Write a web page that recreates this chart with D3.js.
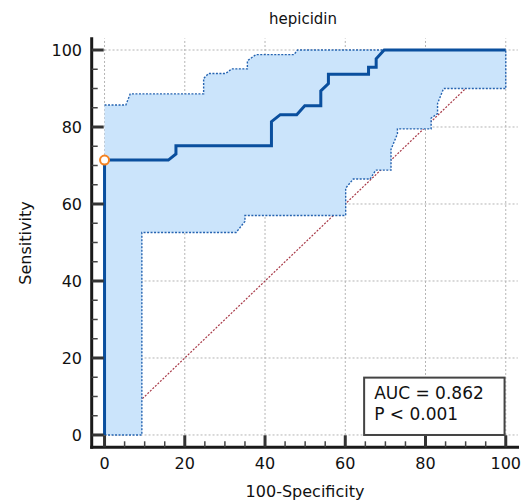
<!DOCTYPE html>
<html><head><meta charset="utf-8">
<script src="https://cdn.jsdelivr.net/npm/d3@7"></script>
<style>
html,body{margin:0;padding:0;background:#fff;}
svg{display:block;font-family:"DejaVu Sans",sans-serif;}
</style></head>
<body><svg id="c" width="527" height="501"></svg>
<script>
// ROC curve: [100-Specificity, Sensitivity]
const rocPoints = [[0,0],[0,71.4],[15.9,71.4],[17.8,73.0],[17.8,75.1],[41.6,75.1],[41.6,81.4],[43.8,83.2],[47.9,83.2],[49.9,85.5],[53.9,85.5],[53.9,89.4],[55.8,91.3],[55.8,93.7],[65.8,93.7],[65.8,95.5],[67.7,95.5],[67.7,97.7],[69.7,100],[100,100]];
// Upper confidence bound
const upperCI = [[0,85.7],[5.3,85.7],[6.4,88.6],[24.7,88.6],[24.7,92.6],[25.9,93.9],[30.2,93.9],[31.7,95.1],[35.6,95.1],[35.6,97.2],[37.7,98.8],[47.2,98.8],[48.1,100],[100,100]];
// Lower confidence bound
const lowerCI = [[0,0],[9.3,0],[9.3,52.6],[32.8,52.6],[35.0,55.5],[35.0,57.0],[60.1,57.0],[60.1,64.1],[62.0,66.5],[66.2,66.5],[67.6,68.8],[71.4,68.8],[71.4,74.2],[73.0,78.2],[73.0,79.5],[81.4,79.5],[81.4,82.3],[83.0,83.5],[83.0,86.1],[84.5,90.0],[100,90.0]];
const criterionPoint = [0,71.4];
const xTicks = [0,20,40,60,80,100];
const yTicks = [0,20,40,60,80,100];
const minorTicks = d3.range(0,101,5);
const titleText = "hepicidin";
const xLabel = "100-Specificity";
const yLabel = "Sensitivity";
const legendLines = ["AUC = 0.862","P < 0.001"];

const svg = d3.select("#c");
const x = d3.scaleLinear().domain([-3.2,103.3]).range([91.7,519]);
const y = d3.scaleLinear().domain([-3.2,103.3]).range([447.3,37.3]);

// gridlines
const grid = svg.append("g").attr("stroke","#b4b4b4").attr("stroke-width",1).attr("stroke-dasharray","2,2");
xTicks.forEach(t=>grid.append("line").attr("x1",x(t)).attr("x2",x(t)).attr("y1",y(0)).attr("y2",y(103)));
yTicks.forEach(t=>grid.append("line").attr("y1",y(t)).attr("y2",y(t)).attr("x1",x(0)).attr("x2",x(103)));

// diagonal reference
svg.append("line").attr("x1",x(0)).attr("y1",y(0)).attr("x2",x(100)).attr("y2",y(100))
  .attr("stroke","#a83a48").attr("stroke-width",1.2).attr("stroke-dasharray","2,1.5");

// CI band
const line = d3.line().x(d=>x(d[0])).y(d=>y(d[1]));
svg.append("path").attr("d",line(upperCI.concat(lowerCI.slice().reverse()))+"Z").attr("fill","#cbe4fb").attr("stroke","none");
svg.append("path").attr("d",line(upperCI.concat([[100,90.0]]))).attr("fill","none")
  .attr("stroke","#2563b0").attr("stroke-width",1.4).attr("stroke-dasharray","2,1.5");
svg.append("path").attr("d",line(lowerCI)).attr("fill","none")
  .attr("stroke","#2563b0").attr("stroke-width",1.4).attr("stroke-dasharray","2,1.5");

// ROC curve
svg.append("path").attr("d",line(rocPoints)).attr("fill","none")
  .attr("stroke","#0a4f9e").attr("stroke-width",3).attr("stroke-linejoin","miter");

// criterion marker
svg.append("circle").attr("cx",x(criterionPoint[0])).attr("cy",y(criterionPoint[1])).attr("r",4.5)
  .attr("fill","#fff").attr("stroke","#f58220").attr("stroke-width",2);

// axes
const ax = svg.append("g").attr("stroke","#1a1a1a");
ax.append("line").attr("x1",x(-3.2)).attr("x2",x(-3.2)).attr("y1",y(-3.2)+1.5).attr("y2",y(103.3)).attr("stroke-width",3);
ax.append("line").attr("x1",x(-3.2)-1.5).attr("x2",x(103.3)).attr("y1",y(-3.2)).attr("y2",y(-3.2)).attr("stroke-width",3);
minorTicks.forEach(t=>{
  const major = xTicks.includes(t);
  ax.append("line").attr("x1",x(t)).attr("x2",x(t)).attr("y1",y(-3.2)).attr("y2",y(-3.2)-(major?12:6))
    .attr("stroke-width",major?3:1.5).attr("stroke",major?"#333":"#444");
  ax.append("line").attr("y1",y(t)).attr("y2",y(t)).attr("x1",x(-3.2)).attr("x2",x(-3.2)+(major?12:6))
    .attr("stroke-width",major?3:1.5).attr("stroke",major?"#333":"#444");
});

// tick labels
svg.append("g").selectAll("text").data(xTicks).join("text")
  .attr("x",d=>x(d)).attr("y",468.5).attr("text-anchor","middle").attr("font-size",16).attr("fill","#111").text(d=>d);
svg.append("g").selectAll("text").data(yTicks).join("text")
  .attr("x",82).attr("y",d=>y(d)+6).attr("text-anchor","end").attr("font-size",16).attr("fill","#111").text(d=>d);

// titles
svg.append("text").attr("x",303).attr("y",24).attr("text-anchor","middle").attr("font-size",15).attr("fill","#111").text(titleText);
svg.append("text").attr("x",305).attr("y",497).attr("text-anchor","middle").attr("font-size",16).attr("fill","#111").text(xLabel);
svg.append("text").attr("transform","translate(31,243) rotate(-90)").attr("text-anchor","middle").attr("font-size",16).attr("fill","#111").text(yLabel);

// legend box
const lx0 = x(64.7), lx1 = x(99.7), ly0 = y(14.9), ly1 = y(0);
svg.append("rect").attr("x",lx0).attr("y",ly0).attr("width",lx1-lx0).attr("height",ly1-ly0)
  .attr("fill","#fff").attr("stroke","#444").attr("stroke-width",2);
svg.append("g").selectAll("text").data(legendLines).join("text")
  .attr("x",lx0+10).attr("y",(d,i)=>ly0+21+i*21.5).attr("font-size",17).attr("fill","#111").text(d=>d);
</script></body></html>
